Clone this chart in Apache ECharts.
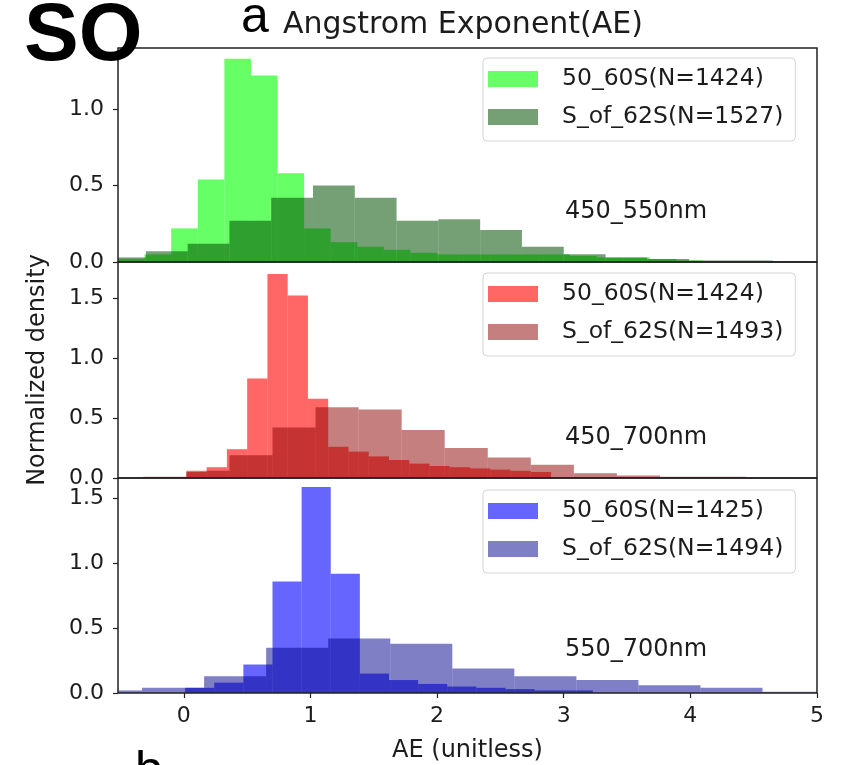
<!DOCTYPE html>
<html>
<head>
<meta charset="utf-8">
<title>Angstrom Exponent (AE) histograms</title>
<script src="https://cdn.jsdelivr.net/npm/echarts@6/dist/echarts.min.js"></script>
<style>
  html, body { margin: 0; padding: 0; background: #ffffff; }
  #chart { width: 859px; height: 765px; }
</style>
</head>
<body>
<div id="chart"></div>
<script>
// ---- data: normalized-density histograms of AE, one panel per wavelength pair ----
const xTickValues = [0, 1, 2, 3, 4, 5];
const yTicksTop = [0, 0.5, 1.0];
const yTicksMid = [0, 0.5, 1.0, 1.5];
const yTicksBot = [0, 0.5, 1.0, 1.5];

const panelLabels = ['450_550nm', '450_700nm', '550_700nm'];

// 450_550nm
const greenNorthLabel = '50_60S(N=1424)';
const greenNorthStart = -0.52;
const greenNorthWidth = 0.21;
const greenNorthHeights = [0.02, 0.05, 0.22, 0.54, 1.33, 1.22, 0.58, 0.22, 0.13, 0.10, 0.08, 0.06,
                           0.05, 0.05, 0.05, 0.05, 0.05, 0.04, 0.03, 0.03, 0.02, 0.01];
const greenSouthLabel = 'S_of_62S(N=1527)';
const greenSouthStart = -0.63;
const greenSouthWidth = 0.33;
const greenSouthHeights = [0.03, 0.07, 0.12, 0.27, 0.42, 0.50, 0.42, 0.27, 0.28, 0.21, 0.10,
                           0.05, 0.03, 0.02, 0.01, 0.01, 0.005];

// 450_700nm
const redNorthLabel = '50_60S(N=1424)';
const redNorthStart = 0.02;
const redNorthWidth = 0.16;
const redNorthHeights = [0.05, 0.09, 0.24, 0.83, 1.70, 1.52, 0.66, 0.26, 0.22, 0.18, 0.15, 0.12,
                         0.10, 0.09, 0.08, 0.07, 0.06, 0.05];
const redSouthLabel = 'S_of_62S(N=1493)';
const redSouthStart = -0.32;
const redSouthWidth = 0.34;
const redSouthHeights = [0.01, 0.06, 0.19, 0.42, 0.59, 0.57, 0.40, 0.25, 0.17, 0.11, 0.04,
                         0.02, 0.01, 0.01, 0.005];

// 550_700nm
const blueNorthLabel = '50_60S(N=1425)';
const blueNorthStart = 0.01;
const blueNorthWidth = 0.23;
const blueNorthHeights = [0.04, 0.08, 0.22, 0.86, 1.59, 0.92, 0.15, 0.10, 0.07, 0.05, 0.04,
                          0.03, 0.02, 0.02];
const blueSouthLabel = 'S_of_62S(N=1494)';
const blueSouthStart = -0.82;
const blueSouthWidth = 0.49;
const blueSouthHeights = [0.02, 0.04, 0.13, 0.35, 0.42, 0.38, 0.19, 0.13, 0.10, 0.06, 0.04, 0.01];

// ---- styling ----
const FONT = 'DejaVu Sans';
const INK = '#1c1c1c';
const X_MIN = -0.52, X_MAX = 5;
const PLOT_LEFT = 118, PLOT_WIDTH = 699;
const panels = [
  { top: 48,  height: 214, yMax: 1.40, ticks: yTicksTop },
  { top: 262, height: 216, yMax: 1.80, ticks: yTicksMid },
  { top: 478, height: 215, yMax: 1.66, ticks: yTicksBot }
];

const seriesDefs = [
  { id: 'gN', panel: 0, label: greenNorthLabel, start: greenNorthStart, width: greenNorthWidth, heights: greenNorthHeights, color: 'rgba(0,255,0,0.6)' },
  { id: 'gS', panel: 0, label: greenSouthLabel, start: greenSouthStart, width: greenSouthWidth, heights: greenSouthHeights, color: 'rgba(0,80,0,0.54)' },
  { id: 'rN', panel: 1, label: redNorthLabel,   start: redNorthStart,   width: redNorthWidth,   heights: redNorthHeights,   color: 'rgba(255,0,0,0.6)' },
  { id: 'rS', panel: 1, label: redSouthLabel,   start: redSouthStart,   width: redSouthWidth,   heights: redSouthHeights,   color: 'rgba(139,0,0,0.5)' },
  { id: 'bN', panel: 2, label: blueNorthLabel,  start: blueNorthStart,  width: blueNorthWidth,  heights: blueNorthHeights,  color: 'rgba(0,0,255,0.6)' },
  { id: 'bS', panel: 2, label: blueSouthLabel,  start: blueSouthStart,  width: blueSouthWidth,  heights: blueSouthHeights,  color: 'rgba(0,0,139,0.5)' }
];

const labelOf = {};
seriesDefs.forEach(d => { labelOf[d.id] = d.label; });

// one histogram bar per bin: [left edge, right edge, density]
function toBins(start, width, heights) {
  return heights.map((h, i) => [start + i * width, start + (i + 1) * width, h]);
}

function renderBin(params, api) {
  const p0 = api.coord([api.value(0), api.value(2)]);
  const p1 = api.coord([api.value(1), 0]);
  const cs = params.coordSys;
  const shape = echarts.graphic.clipRectByRect(
    { x: p0[0], y: p0[1], width: p1[0] - p0[0], height: p1[1] - p0[1] },
    { x: cs.x, y: cs.y, width: cs.width, height: cs.height }
  );
  if (!shape) return null;
  return { type: 'rect', shape: shape, style: { fill: api.visual('color') } };
}

const grids = panels.map(p => ({
  left: PLOT_LEFT, width: PLOT_WIDTH, top: p.top, height: p.height,
  show: true, z: 5, backgroundColor: 'transparent',
  borderColor: '#222', borderWidth: 1.5
}));

const xAxes = panels.map((p, i) => {
  const isBottom = i === panels.length - 1;
  return {
    type: 'value', gridIndex: i, min: X_MIN, max: X_MAX, position: 'bottom',
    axisLine: { show: false, onZero: false },
    splitLine: { show: false },
    axisTick: isBottom
      ? { show: true, customValues: xTickValues, length: 5, lineStyle: { color: '#222', width: 1.2 } }
      : { show: false },
    axisLabel: isBottom
      ? { show: true, customValues: xTickValues, margin: 12, fontFamily: FONT, fontSize: 22, color: INK }
      : { show: false },
    name: isBottom ? 'AE (unitless)' : '',
    nameLocation: 'middle', nameGap: 46,
    nameTextStyle: { fontFamily: FONT, fontSize: 24, color: INK }
  };
});

const yAxes = panels.map((p, i) => ({
  type: 'value', gridIndex: i, min: 0, max: p.yMax, position: 'left',
  axisLine: { show: false, onZero: false },
  splitLine: { show: false },
  axisTick: { show: true, customValues: p.ticks, length: 5, lineStyle: { color: '#222', width: 1.2 } },
  axisLabel: {
    show: true, customValues: p.ticks, margin: 14,
    fontFamily: FONT, fontSize: 22, color: INK,
    formatter: v => v.toFixed(1)
  },
  name: i === 1 ? 'Normalized density' : '',
  nameLocation: 'middle', nameGap: 68,
  nameTextStyle: { fontFamily: FONT, fontSize: 24, color: INK }
}));

const series = seriesDefs.map(d => ({
  type: 'custom', name: d.id,
  xAxisIndex: d.panel, yAxisIndex: d.panel,
  renderItem: renderBin,
  encode: { x: [0, 1], y: 2 },
  itemStyle: { color: d.color },
  data: toBins(d.start, d.width, d.heights),
  silent: true
}));

const legendTops = [58, 273, 490];
const legends = panels.map((p, i) => ({
  orient: 'vertical', left: 483, top: legendTops[i], z: 10,
  data: seriesDefs.filter(d => d.panel === i).map(d => d.id),
  formatter: name => labelOf[name],
  icon: 'rect', itemWidth: 50, itemHeight: 16, itemGap: 14,
  padding: [9, 12, 12, 5],
  backgroundColor: 'rgba(255,255,255,0.8)',
  borderColor: '#d4d4d4', borderWidth: 1, borderRadius: 4,
  selectedMode: false,
  textStyle: { fontFamily: FONT, fontSize: 23.5, lineHeight: 24, color: INK, padding: [0, 0, 0, 19] }
}));

const panelTextY = [212, 438, 650];
const graphics = panelLabels.map((t, i) => ({
  type: 'text', x: 565, y: panelTextY[i], z: 20,
  style: { text: t, font: '24px "' + FONT + '"', fill: INK, verticalAlign: 'middle', align: 'left' }
})).concat([
  { type: 'text', x: 24, y: 37, z: 20,
    style: { text: 'SO', font: 'bold 82px "Liberation Sans"', fill: '#000', verticalAlign: 'middle', align: 'left' } },
  { type: 'text', x: 241, y: 18, z: 20,
    style: { text: 'a', font: '50px "Liberation Sans"', fill: '#000', verticalAlign: 'middle', align: 'left' } },
  { type: 'text', x: 135, y: 772, z: 20,
    style: { text: 'b', font: '50px "Liberation Sans"', fill: '#000', verticalAlign: 'middle', align: 'left' } }
]);

const chart = echarts.init(document.getElementById('chart'), null, { renderer: 'canvas' });
chart.setOption({
  animation: false,
  backgroundColor: '#ffffff',
  title: {
    text: 'Angstrom Exponent(AE)', left: 283, top: 10, padding: 0,
    textStyle: { fontFamily: FONT, fontSize: 30, fontWeight: 'normal', color: INK }
  },
  grid: grids,
  xAxis: xAxes,
  yAxis: yAxes,
  legend: legends,
  series: series,
  graphic: graphics
});
</script>
</body>
</html>
